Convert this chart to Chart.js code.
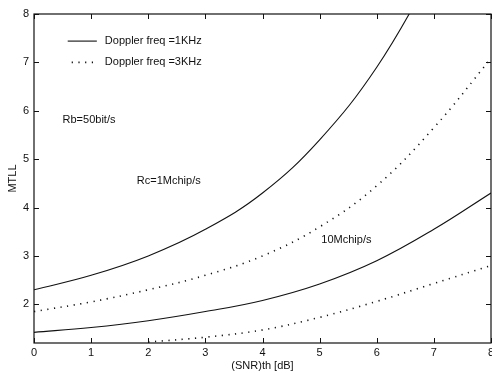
<!DOCTYPE html>
<html>
<head>
<meta charset="utf-8">
<script src="https://cdn.jsdelivr.net/npm/chart.js@4/dist/chart.umd.min.js"></script>
<style>
  html, body { margin: 0; padding: 0; background: #fff; }
  #wrap { width: 492px; height: 373px; }
</style>
</head>
<body>
<div id="wrap"><canvas id="chart"></canvas></div>
<script>
'use strict';

// values
const snrUpper = [0, 1, 2, 3, 4, 5, 6, 7];
const mtll1M1k = [2.3, 2.6, 3.0, 3.55, 4.3, 5.4, 6.9, 8.9];
const snrAll = [0, 1, 2, 3, 4, 5, 6, 7, 8];
const mtll1M3k = [1.85, 2.05, 2.3, 2.6, 3.0, 3.6, 4.45, 5.65, 7.08];
const mtll10M1k = [1.42, 1.52, 1.66, 1.85, 2.08, 2.42, 2.9, 3.55, 4.3];
const snrLow = [2, 3, 4, 5, 6, 7, 8];
const mtll10M3k = [1.22, 1.32, 1.47, 1.73, 2.06, 2.43, 2.8];

const xTicks = [0, 1, 2, 3, 4, 5, 6, 7, 8];
const yTicks = [2, 3, 4, 5, 6, 7, 8];

const FONT = '"Liberation Sans", Arial, sans-serif';

function pts(xs, ys) {
  return xs.map((x, i) => ({ x: x, y: ys[i] }));
}

function line(data, dotted) {
  return {
    data: data,
    borderColor: '#111',
    borderWidth: dotted ? 1.6 : 1.1,
    borderDash: dotted ? [1.2, 5.5] : [],
    pointRadius: 0,
    fill: false,
    tension: 0.4
  };
}

// frame, inward ticks, legend and notes
const decor = {
  id: 'decor',
  afterDraw(chart) {
    let ctx = chart.ctx;
    let a = chart.chartArea;
    let xs = chart.scales.x;
    let ys = chart.scales.y;
    ctx.save();
    ctx.strokeStyle = '#111';
    ctx.lineWidth = 1.2;
    ctx.strokeRect(a.left, a.top, a.right - a.left, a.bottom - a.top);
    ctx.lineWidth = 1;
    ctx.beginPath();
    xTicks.forEach(v => {
      let px = Math.round(xs.getPixelForValue(v)) + 0.5;
      ctx.moveTo(px, a.bottom); ctx.lineTo(px, a.bottom - 5);
      ctx.moveTo(px, a.top); ctx.lineTo(px, a.top + 5);
    });
    yTicks.forEach(v => {
      let py = Math.round(ys.getPixelForValue(v)) + 0.5;
      ctx.moveTo(a.left, py); ctx.lineTo(a.left + 5, py);
      ctx.moveTo(a.right, py); ctx.lineTo(a.right - 5, py);
    });
    ctx.stroke();

    // legend
    ctx.fillStyle = '#111';
    ctx.font = '11px ' + FONT;
    ctx.textBaseline = 'middle';
    let l1 = ys.getPixelForValue(7.44);
    let l2 = ys.getPixelForValue(7.0);
    ctx.lineWidth = 1.1;
    ctx.beginPath();
    ctx.moveTo(xs.getPixelForValue(0.59), l1);
    ctx.lineTo(xs.getPixelForValue(1.1), l1);
    ctx.stroke();
    ctx.lineWidth = 1.6;
    ctx.setLineDash([1.2, 5.5]);
    ctx.beginPath();
    ctx.moveTo(xs.getPixelForValue(0.66), l2);
    ctx.lineTo(xs.getPixelForValue(1.1), l2);
    ctx.stroke();
    ctx.setLineDash([]);
    ctx.fillText('Doppler freq =1KHz', xs.getPixelForValue(1.24), l1);
    ctx.fillText('Doppler freq =3KHz', xs.getPixelForValue(1.24), l2);

    // notes
    ctx.fillText('Rb=50bit/s', xs.getPixelForValue(0.5), ys.getPixelForValue(5.81));
    ctx.fillText('Rc=1Mchip/s', xs.getPixelForValue(1.8), ys.getPixelForValue(4.54));
    ctx.fillText('10Mchip/s', xs.getPixelForValue(5.03), ys.getPixelForValue(3.32));
    ctx.restore();
  }
};

new Chart(document.getElementById('chart'), {
  type: 'line',
  data: {
    datasets: [
      line(pts(snrUpper, mtll1M1k), false),
      line(pts(snrAll, mtll1M3k), true),
      line(pts(snrAll, mtll10M1k), false),
      line(pts(snrLow, mtll10M3k), true)
    ]
  },
  options: {
    responsive: true,
    maintainAspectRatio: false,
    animation: false,
    events: [],
    layout: { padding: { top: 14, right: 1, left: 0, bottom: 0 } },
    plugins: { legend: { display: false }, tooltip: { enabled: false } },
    scales: {
      x: {
        type: 'linear',
        min: 0,
        max: 8,
        afterBuildTicks: s => { s.ticks = xTicks.map(v => ({ value: v })); },
        afterFit: s => { s.height = 30; s.paddingRight = 0; s.paddingLeft = 0; },
        grid: { display: false, drawTicks: false },
        border: { display: false },
        ticks: { color: '#111', font: { family: FONT, size: 11 }, padding: 3, maxRotation: 0 },
        title: { display: true, text: '(SNR)th [dB]', color: '#111', font: { family: FONT, size: 11 }, padding: 0 }
      },
      y: {
        type: 'linear',
        min: 1.2,
        max: 8,
        afterBuildTicks: s => { s.ticks = yTicks.map(v => ({ value: v })); },
        afterFit: s => { s.width = 34; s.paddingTop = 0; s.paddingBottom = 0; },
        grid: { display: false, drawTicks: false },
        border: { display: false },
        ticks: { color: '#111', font: { family: FONT, size: 11 }, padding: 5 },
        title: { display: true, text: 'MTLL', color: '#111', font: { family: FONT, size: 11 }, padding: { top: 6, bottom: 0 } }
      }
    }
  },
  plugins: [decor]
});
</script>
</body>
</html>
